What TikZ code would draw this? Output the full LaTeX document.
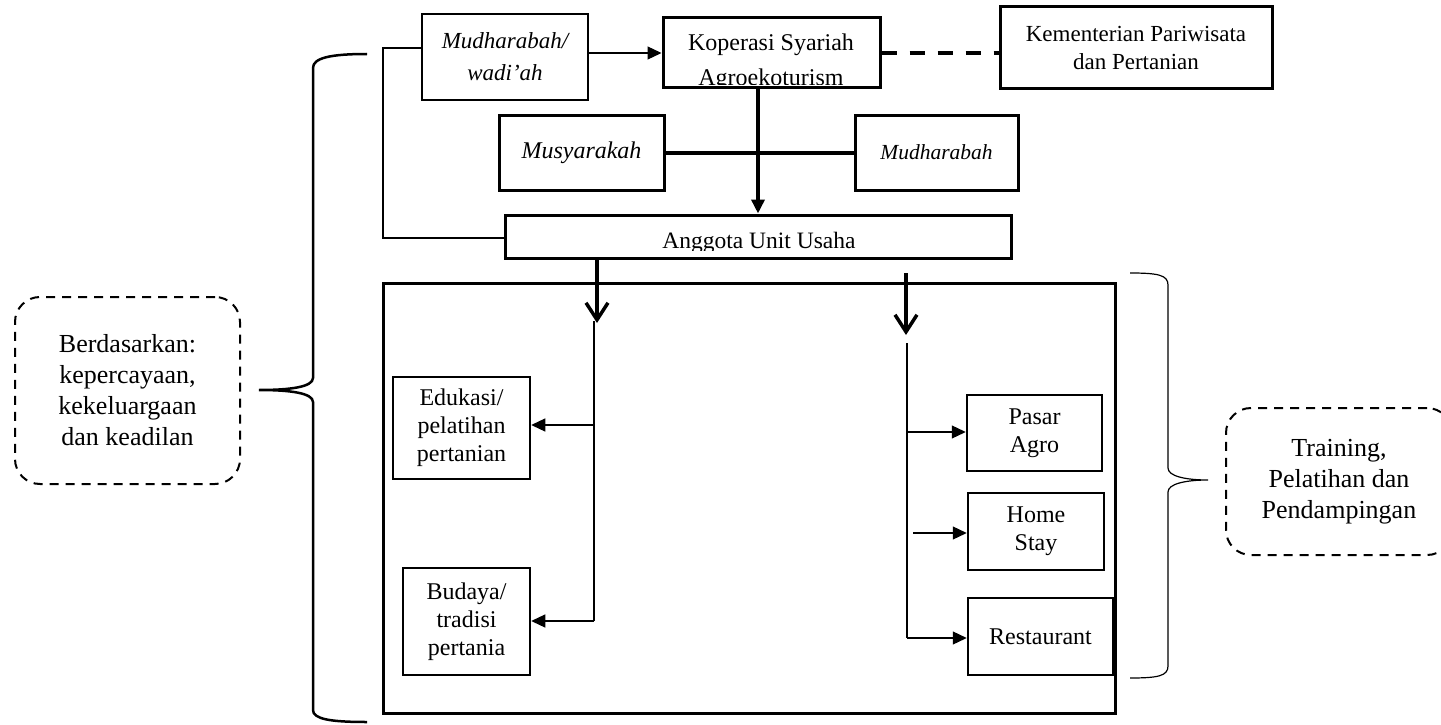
\documentclass[tikz,border=0pt]{standalone}
\usepackage{fontspec}
\setmainfont{Liberation Serif}
\usetikzlibrary{arrows.meta}
\begin{document}
\begin{tikzpicture}[x=1pt,y=-1pt,
  box/.style={draw, line width=2.5pt, inner sep=0pt, align=center, font=\fontsize{24}{28}\selectfont},
  txt/.style={inner sep=0pt, font=\fontsize{24}{30}\selectfont},
  thinline/.style={line width=1.2pt},
  tarrow/.style={line width=1.2pt, -{Triangle[length=14pt,width=13pt]}},
  bigarrow/.style={line width=3.5pt, -{Triangle[length=14pt,width=13pt]}},
  barb/.style={line width=3.5pt, -{Straight Barb[length=17pt,width=22pt]}},
  midline/.style={line width=2.5pt},
  dbox/.style={draw, dash pattern=on 9pt off 7pt, line width=2pt, rounded corners=25pt, inner sep=0pt, align=center, font=\fontsize{26}{31}\selectfont},
  brace/.style={line width=2.5pt},
]
\useasboundingbox (0,0) rectangle (1441,725);

% top row
\node[box, line width=2pt, minimum width=166pt, minimum height=86pt, font=\fontsize{23}{32}\selectfont\itshape] (mw) at (505,57) {Mudharabah/\\wadi’ah};
\node[box, line width=3pt, minimum width=217pt, minimum height=70pt] (kop) at (771.5,53) {};
\begin{scope}
  \clip (663,19) rectangle (880,85);
  \node[txt, anchor=base] (kopa) at (771,51) {Koperasi Syariah};
  \node[txt, anchor=base] (kopb) at (771,85) {Agroekoturism};
\end{scope}
\node[box, line width=3pt, minimum width=272pt, minimum height=82pt, font=\fontsize{23}{28}\selectfont] (kem) at (1136,48) {Kementerian Pariwisata\\dan Pertanian};

% middle row
\node[box, line width=3pt, minimum width=165pt, minimum height=75pt, font=\fontsize{24}{28}\selectfont\itshape] (mus) at (581.5,152.5) {Musyarakah};
\node[box, line width=3pt, minimum width=163pt, minimum height=75pt, font=\fontsize{21.5}{26}\selectfont\itshape] (mud) at (936.5,152.5) {Mudharabah};

% anggota
\node[box, line width=3pt, minimum width=506pt, minimum height=43pt] (ang) at (758,236.5) {};
\begin{scope}
  \clip (505,215) rectangle (1011,250);
  \node[txt, anchor=base, font=\fontsize{23.5}{28}\selectfont] (angt) at (759,248) {Anggota Unit Usaha};
\end{scope}

% big box
\node[draw, line width=3pt, minimum width=732pt, minimum height=430pt, inner sep=0pt] (big) at (749,498) {};

% inner boxes
\node[box, minimum width=137pt, minimum height=102pt] (edu) at (461.5,428) {Edukasi/\\pelatihan\\pertanian};
\node[box, minimum width=127pt, minimum height=107pt] (bud) at (466.5,621.5) {Budaya/\\tradisi\\pertania};
\node[box, minimum width=135pt, minimum height=76pt] (pas) at (1034.5,433) {Pasar\\Agro};
\node[box, minimum width=136pt, minimum height=77pt] (hom) at (1036,531.5) {Home\\Stay};
\node[box, minimum width=145pt, minimum height=77pt] (res) at (1040.5,636.5) {Restaurant};

% dashed notes
\node[dbox, minimum width=225pt, minimum height=187pt] (ber) at (127.5,390.5) {Berdasarkan:\\kepercayaan,\\kekeluargaan\\dan keadilan};
\node[dbox, minimum width=226pt, minimum height=147pt] (tra) at (1339,481.5) {Training,\\Pelatihan dan\\Pendampingan};

% connectors top
\draw[tarrow] (kop.west -| mw.east) -- (kop.west);
\draw[line width=4pt, dash pattern=on 15pt off 13pt] (kop.east) -- (kop.east -| kem.west);
\coordinate (kv) at (758,88);
\draw[bigarrow] (kv) -- (kv |- ang.north);
\draw[line width=4pt] (mus.east) -- (mud.west);

% L line
\coordinate (mwl) at (422,48);
\coordinate (lc1) at (383,48);
\coordinate (lc2) at (383,238);
\draw[thinline] (mwl) -- (lc1) -- (lc2) -- (lc2 -| ang.west);

% left branch
\coordinate (la) at (597,259);
\coordinate (lt) at (597,323);
\draw[barb] (la) -- (lt);
\coordinate (lb) at (594,321);
\coordinate (lc) at (594,621);
\draw[midline] (lb) -- (lc);
\coordinate (le) at (594,425);
\draw[tarrow] (le) -- (le -| edu.east);
\draw[tarrow] (lc) -- (lc -| bud.east);

% right branch
\coordinate (ra) at (906,273);
\coordinate (rt) at (906,335);
\draw[barb] (ra) -- (rt);
\coordinate (rb) at (907,343);
\coordinate (rc) at (907,638);
\draw[midline] (rb) -- (rc);
\draw[tarrow] (rc) -- (rc -| res.west);
\coordinate (rp) at (907,432);
\draw[tarrow] (rp) -- (rp -| pas.west);
\coordinate (rh) at (913,533);
\draw[tarrow] (rh) -- (rh -| hom.west);

% braces
\draw[brace] (367,54) .. controls (330,54) and (313,58) .. (313,68) -- (313,378)
  .. controls (313,387) and (290,390) .. (259,390)
  .. controls (290,390) and (313,393) .. (313,402) -- (313,710)
  .. controls (313,719) and (330,722) .. (367,722);
\draw[line width=1.2pt] (1130,273) .. controls (1158,273) and (1168,275) .. (1168,285) -- (1168,468)
  .. controls (1168,476) and (1185,480) .. (1208,480)
  .. controls (1185,480) and (1168,484) .. (1168,492) -- (1168,666)
  .. controls (1168,676) and (1158,678) .. (1130,678);
\end{tikzpicture}
\end{document}
